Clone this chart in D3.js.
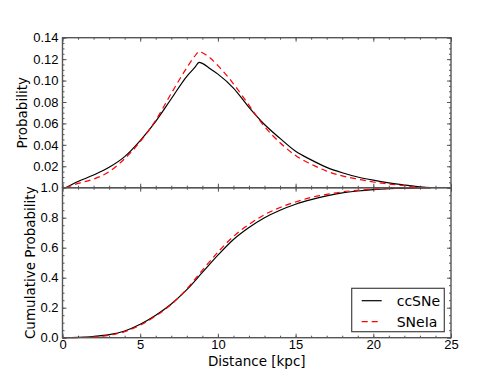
<!DOCTYPE html>
<html>
<head>
<meta charset="utf-8">
<script src="https://cdn.jsdelivr.net/npm/d3@7"></script>
<style>
  body { margin: 0; background: #fff; }
  svg { display: block; font-family: "DejaVu Sans", sans-serif; }
</style>
</head>
<body>
<div id="chart"></div>
<script>
var width = 501,
    height = 376,
    margin = {top: 37.7, right: 50, bottom: 38.3, left: 62.5};

// probability per kpc (top panel)
var pdfDist   = [0.2, 1, 2, 3, 4, 5, 6, 7, 8, 8.5, 8.8, 9, 9.5, 10, 11, 12, 13, 14, 15, 16, 17, 18, 19, 20, 21, 22, 23, 23.7];
var pdfCC     = [0, 0.0058, 0.0118, 0.019, 0.029, 0.044, 0.062, 0.083, 0.104, 0.112, 0.117, 0.116, 0.111, 0.106, 0.093, 0.075, 0.059, 0.046, 0.034, 0.026, 0.019, 0.014, 0.010, 0.007, 0.0045, 0.0025, 0.0008, 0];
var pdfIa     = [0, 0.004, 0.008, 0.015, 0.027, 0.043, 0.063, 0.088, 0.112, 0.1225, 0.127, 0.126, 0.121, 0.114, 0.097, 0.077, 0.057, 0.042, 0.030, 0.022, 0.0155, 0.011, 0.008, 0.0053, 0.0035, 0.0018, 0.0005, 0];

// cumulative probability (bottom panel)
var cdfDist   = [0, 1, 2, 3, 4, 5, 6, 7, 8, 9, 10, 11, 12, 13, 14, 15, 16, 17, 18, 19, 20, 21, 22, 23, 23.7];
var cdfCC     = [0, 0.002, 0.008, 0.02, 0.045, 0.09, 0.15, 0.225, 0.32, 0.435, 0.55, 0.655, 0.735, 0.8, 0.85, 0.89, 0.92, 0.945, 0.965, 0.978, 0.987, 0.993, 0.997, 0.999, 1.0];
var cdfIa     = [0, 0.001, 0.005, 0.016, 0.04, 0.083, 0.145, 0.222, 0.325, 0.45, 0.57, 0.675, 0.755, 0.82, 0.868, 0.905, 0.935, 0.955, 0.972, 0.983, 0.99, 0.995, 0.998, 0.9995, 1.0];

var xTicks     = [0, 5, 10, 15, 20, 25];
var topTicks   = [0.02, 0.04, 0.06, 0.08, 0.10, 0.12, 0.14];
var botTicks   = [0.0, 0.2, 0.4, 0.6, 0.8, 1.0];
var seriesNames = ["ccSNe", "SNeIa"];

var spine = "#555";
var x0 = margin.left, x1 = width - margin.right;
var yTop = margin.top, yMid = 187.7, yBot = height - margin.bottom;

var svg = d3.select("#chart").append("svg")
    .attr("width", width)
    .attr("height", height);

var x = d3.scaleLinear().domain([0, 25]).range([x0, x1]);
var yP = d3.scaleLinear().domain([0, 0.14]).range([yMid, yTop]);
var yC = d3.scaleLinear().domain([0, 1]).range([yBot, yMid]);

// minor tick values
var xMinor = d3.range(0, 26, 1);
var pMinor = d3.range(0, 0.1401, 0.005);
var cMinor = d3.range(0, 1.0001, 0.05);

function styleAxis(g) {
    g.select(".domain").remove();
    g.selectAll("line").attr("stroke", spine);
    g.selectAll("text").attr("font-size", 13).attr("fill", "#000");
}

function panelTicks(y, yMinor, top, bottom) {
    // minor ticks, inward on all sides
    [[d3.axisBottom(x), bottom], [d3.axisTop(x), top]].forEach(function(a) {
        svg.append("g").attr("transform", "translate(0," + a[1] + ")")
            .call(a[0].tickValues(xMinor).tickSize(-2).tickFormat(""))
            .call(styleAxis);
        svg.append("g").attr("transform", "translate(0," + a[1] + ")")
            .call(a[0].tickValues(xTicks).tickSize(-4).tickFormat(""))
            .call(styleAxis);
    });
    [[d3.axisLeft(y), x0], [d3.axisRight(y), x1]].forEach(function(a) {
        svg.append("g").attr("transform", "translate(" + a[1] + ",0)")
            .call(a[0].tickValues(yMinor).tickSize(-2).tickFormat(""))
            .call(styleAxis);
    });
}

panelTicks(yP, pMinor, yTop, yMid);
panelTicks(yC, cMinor, yMid, yBot);

// major y ticks + labels
svg.append("g").attr("transform", "translate(" + x0 + ",0)")
    .call(d3.axisLeft(yP).tickValues(topTicks).tickSize(-4).tickPadding(4).tickFormat(d3.format(".2f")))
    .call(styleAxis);
svg.append("g").attr("transform", "translate(" + x1 + ",0)")
    .call(d3.axisRight(yP).tickValues(topTicks.concat([0])).tickSize(-4).tickFormat(""))
    .call(styleAxis);
svg.append("g").attr("transform", "translate(" + x0 + ",0)")
    .call(d3.axisLeft(yC).tickValues(botTicks).tickSize(-4).tickPadding(4).tickFormat(d3.format(".1f")))
    .call(styleAxis);
svg.append("g").attr("transform", "translate(" + x1 + ",0)")
    .call(d3.axisRight(yC).tickValues(botTicks).tickSize(-4).tickFormat(""))
    .call(styleAxis);

// x labels under the bottom panel
svg.append("g").attr("transform", "translate(0," + yBot + ")")
    .call(d3.axisBottom(x).tickValues(xTicks).tickSize(0).tickPadding(2))
    .call(styleAxis);

// lines
function drawLine(xs, ys, y, dashed) {
    var pts = xs.map(function(d, i) { return [d, ys[i]]; });
    svg.append("path")
        .datum(pts)
        .attr("fill", "none")
        .attr("stroke", dashed ? "#ff0000" : "#000")
        .attr("stroke-width", 1.2)
        .attr("stroke-dasharray", dashed ? "6,4" : null)
        .attr("d", d3.line().curve(d3.curveMonotoneX)
            .x(function(d) { return x(d[0]); })
            .y(function(d) { return y(d[1]); }));
}

drawLine(pdfDist, pdfCC, yP, false);
drawLine(pdfDist, pdfIa, yP, true);
drawLine(cdfDist, cdfCC, yC, false);
drawLine(cdfDist, cdfIa, yC, true);

// spines
svg.append("rect").attr("x", x0).attr("y", yTop).attr("width", x1 - x0).attr("height", yMid - yTop)
    .attr("fill", "none").attr("stroke", spine).attr("stroke-width", 1.4);
svg.append("rect").attr("x", x0).attr("y", yMid).attr("width", x1 - x0).attr("height", yBot - yMid)
    .attr("fill", "none").attr("stroke", spine).attr("stroke-width", 1.4);

// axis titles
svg.append("text")
    .attr("transform", "translate(22," + ((yTop + yMid) / 2) + ") rotate(-90)")
    .attr("text-anchor", "middle").attr("dy", "0.35em")
    .attr("font-size", 13.5)
    .text("Probability");
svg.append("text")
    .attr("transform", "translate(30," + ((yMid + yBot) / 2) + ") rotate(-90)")
    .attr("text-anchor", "middle").attr("dy", "0.35em")
    .attr("font-size", 13.5)
    .text("Cumulative Probability");
svg.append("text")
    .attr("x", (x0 + x1) / 2).attr("y", 366)
    .attr("text-anchor", "middle")
    .attr("font-size", 13.5)
    .text("Distance [kpc]");

// legend
var lg = svg.append("g").attr("transform", "translate(351.7,288.3)");
lg.append("rect").attr("width", 92.6).attr("height", 43.4)
    .attr("fill", "#fff").attr("stroke", "#444").attr("stroke-width", 1.2);
seriesNames.forEach(function(name, i) {
    var yy = 12.4 + i * 21;
    lg.append("line").attr("x1", 10).attr("x2", 30).attr("y1", yy).attr("y2", yy)
        .attr("stroke", i ? "#ff0000" : "#000").attr("stroke-width", 1.2)
        .attr("stroke-dasharray", i ? "6,4" : null);
    lg.append("text").attr("x", 45).attr("y", yy).attr("dy", "0.35em")
        .attr("font-size", 14).text(name);
});
</script>
</body>
</html>
